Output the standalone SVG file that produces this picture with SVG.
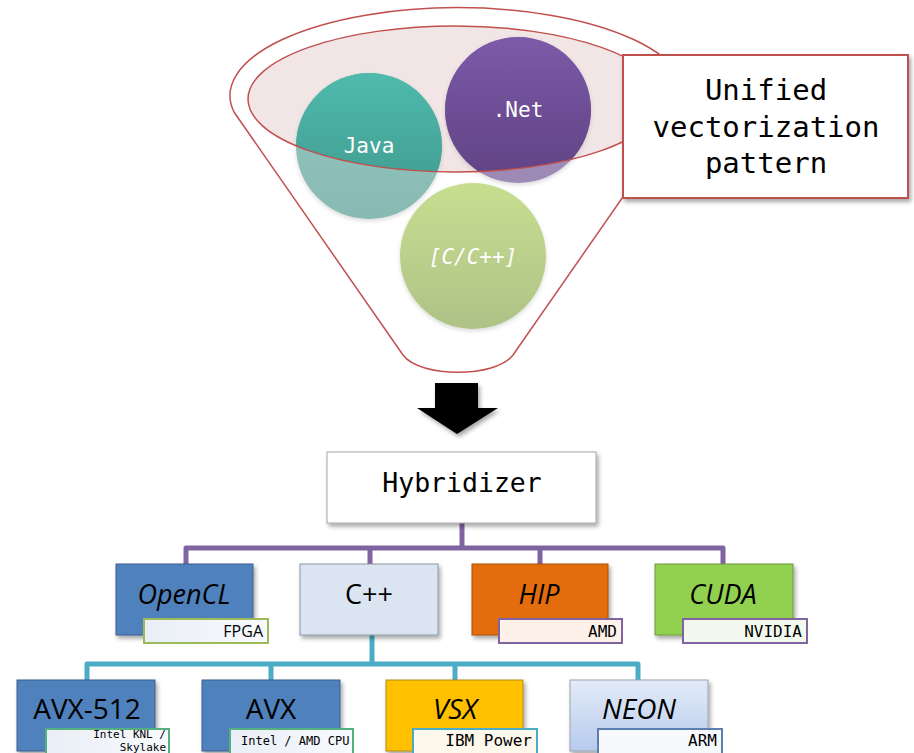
<svg xmlns="http://www.w3.org/2000/svg" width="914" height="753" viewBox="0 0 914 753">
<style>
.mono{font-family:"DejaVu Sans Mono","Liberation Mono",monospace}
.sans{font-family:"Open Sans","Noto Sans","Liberation Sans",sans-serif}
.ctext{font-size:21px;fill:#ffffff;text-anchor:middle}
.box{stroke-width:1}
.lbl{font-size:27px;fill:#000;text-anchor:middle}
.sub{stroke-width:2}
.subt{font-size:16px;fill:#000;text-anchor:end}
.conn{fill:none;stroke-width:5;stroke-linejoin:round;stroke-linecap:butt}
</style>
<defs>
<filter id="sh" x="-10%" y="-10%" width="130%" height="140%">
<feDropShadow dx="2" dy="3" stdDeviation="2" flood-color="#000" flood-opacity="0.35"/>
</filter>
<filter id="csh" x="-20%" y="-20%" width="140%" height="140%">
<feDropShadow dx="0" dy="2" stdDeviation="2" flood-color="#000" flood-opacity="0.15"/>
</filter>
<clipPath id="ell"><ellipse cx="455" cy="99" rx="207" ry="73"/></clipPath>
<linearGradient id="gJava" x1="0" y1="0" x2="0" y2="1"><stop offset="0" stop-color="#4fbaac"/><stop offset="1" stop-color="#3e968b"/></linearGradient>
<linearGradient id="gJavaL" x1="0" y1="0" x2="0" y2="1"><stop offset="0" stop-color="#95c9c2"/><stop offset="1" stop-color="#88b9b3"/></linearGradient>
<linearGradient id="gNet" x1="0" y1="0" x2="0" y2="1"><stop offset="0" stop-color="#7c5aa8"/><stop offset="1" stop-color="#5f4283"/></linearGradient>
<linearGradient id="gNetL" x1="0" y1="0" x2="0" y2="1"><stop offset="0" stop-color="#a793c2"/><stop offset="1" stop-color="#9c89b5"/></linearGradient>
<linearGradient id="gC" x1="0" y1="0" x2="0" y2="1"><stop offset="0" stop-color="#c7de90"/><stop offset="1" stop-color="#afc287"/></linearGradient>
<linearGradient id="gNeon" x1="0" y1="0" x2="0" y2="1"><stop offset="0" stop-color="#e3ebf7"/><stop offset="1" stop-color="#b7cbed"/></linearGradient>
<linearGradient id="gSub" x1="0" y1="0" x2="1" y2="0"><stop offset="0" stop-color="#e9eef6"/><stop offset="1" stop-color="#f8fafd"/></linearGradient>
</defs>

<g id="funnel">
<path d="M234,112 A228,88 0 1 1 682,112 L513,355 C496,378 420,378 403,355 Z" fill="#ffffff" stroke="#c0504d" stroke-width="1.5"/>
<ellipse cx="455" cy="99" rx="207" ry="73" fill="#f2e5e5"/>
</g>

<g id="java">
<circle cx="369" cy="146" r="73" fill="url(#gJavaL)" filter="url(#csh)"/>
<circle cx="369" cy="146" r="73" fill="url(#gJava)" clip-path="url(#ell)"/>
<text x="369" y="153" class="mono ctext">Java</text>
</g>
<g id="net">
<circle cx="518" cy="110" r="73" fill="url(#gNetL)" filter="url(#csh)"/>
<circle cx="518" cy="110" r="73" fill="url(#gNet)" clip-path="url(#ell)"/>
<text x="518" y="117" class="mono ctext">.Net</text>
</g>
<g id="ellipse-rim">
<ellipse cx="455" cy="99" rx="207" ry="73" fill="none" stroke="#c0504d" stroke-width="1.5"/>
</g>
<g id="cpp-lang">
<circle cx="473" cy="256" r="73" fill="url(#gC)" filter="url(#csh)"/>
<text x="473" y="264" class="mono ctext" font-style="italic">[C/C++]</text>
</g>

<g id="callout">
<rect x="623" y="55" width="285" height="143" fill="#ffffff" stroke="#c0504d" stroke-width="2" filter="url(#sh)"/>
<text class="mono" font-size="29" text-anchor="middle" fill="#000"><tspan x="766" y="100">Unified</tspan><tspan x="766" y="137">vectorization</tspan><tspan x="766" y="173">pattern</tspan></text>
</g>

<g id="arrow">
<path d="M435,383 H478 V408 H498 L457,434 L417,408 H435 Z" fill="#000" filter="url(#sh)"/>
</g>

<g id="connectors">
<path class="conn" stroke="#8064a2" d="M462,523 V548"/>
<path class="conn" stroke="#8064a2" d="M186,565 V548 H723 V565"/>
<path class="conn" stroke="#8064a2" d="M370,548 V565 M540,548 V565"/>
<path class="conn" stroke="#4bacc6" d="M372,635 V664"/>
<path class="conn" stroke="#4bacc6" d="M87,680 V664 H638 V680"/>
<path class="conn" stroke="#4bacc6" d="M271,664 V680 M455,664 V680"/>
</g>

<g id="hybridizer">
<rect x="327" y="452" width="269" height="71" fill="#ffffff" stroke="#a6a6a6" stroke-width="1" filter="url(#sh)"/>
<text x="462" y="492" class="mono" font-size="26.5" text-anchor="middle" fill="#000">Hybridizer</text>
</g>

<g id="opencl">
<rect x="116" y="564" width="137" height="71" fill="#4f81bd" stroke="#3a5f8c" class="box" filter="url(#sh)"/>
<text x="184" y="604" class="sans lbl" font-style="italic">OpenCL</text>
<rect x="144" y="619" width="124" height="24" fill="url(#gSub)" stroke="#9bbb59" class="sub"/>
<text x="263" y="637" class="sans" font-size="16" text-anchor="end" fill="#000">FPGA</text>
</g>

<g id="cpp">
<rect x="300" y="564" width="138" height="71" fill="#dbe5f1" stroke="#8c96a3" class="box" filter="url(#sh)"/>
<text x="369" y="604" class="sans lbl">C++</text>
</g>

<g id="hip">
<rect x="472" y="564" width="136" height="71" fill="#e36c0a" stroke="#a85008" class="box" filter="url(#sh)"/>
<text x="539" y="604" class="sans lbl" font-style="italic">HIP</text>
<rect x="499" y="619" width="123" height="24" fill="#fdf1ea" stroke="#8064a2" class="sub"/>
<text x="617" y="637" class="mono subt">AMD</text>
</g>

<g id="cuda">
<rect x="655" y="564" width="138" height="71" fill="#92d050" stroke="#6d9b3c" class="box" filter="url(#sh)"/>
<text x="723" y="604" class="sans lbl" font-style="italic">CUDA</text>
<rect x="683" y="619" width="124" height="24" fill="#f3f8ef" stroke="#8064a2" class="sub"/>
<text x="802" y="637" class="mono subt">NVIDIA</text>
</g>

<g id="avx512">
<rect x="17" y="680" width="138" height="71" fill="#4f81bd" stroke="#3a5f8c" class="box" filter="url(#sh)"/>
<text x="87" y="719" class="sans" font-size="28" text-anchor="middle" fill="#000">AVX-512</text>
<rect x="46" y="729" width="123" height="26" fill="url(#gSub)" stroke="#55b07f" class="sub"/>
<text class="mono" font-size="11" text-anchor="end" fill="#000"><tspan x="166" y="738">Intel KNL /</tspan><tspan x="166" y="751">Skylake</tspan></text>
</g>

<g id="avx">
<rect x="202" y="680" width="138" height="71" fill="#4f81bd" stroke="#3a5f8c" class="box" filter="url(#sh)"/>
<text x="271" y="719" class="sans" font-size="28" text-anchor="middle" fill="#000">AVX</text>
<rect x="230" y="729" width="123" height="26" fill="url(#gSub)" stroke="#55b07f" class="sub"/>
<text x="241" y="745" class="mono" font-size="12" fill="#000">Intel / AMD CPU</text>
</g>

<g id="vsx">
<rect x="386" y="680" width="137" height="71" fill="#ffc000" stroke="#b38a10" class="box" filter="url(#sh)"/>
<text x="455" y="719" class="sans" font-size="28" font-style="italic" text-anchor="middle" fill="#000">VSX</text>
<rect x="413" y="729" width="124" height="26" fill="#fdf8ec" stroke="#4bacc6" class="sub"/>
<text x="532" y="746" class="mono subt">IBM Power</text>
</g>

<g id="neon">
<rect x="570" y="680" width="138" height="71" fill="url(#gNeon)" stroke="#9aa3b0" class="box" filter="url(#sh)"/>
<text x="639" y="719" class="sans" font-size="28" font-style="italic" text-anchor="middle" fill="#000">NEON</text>
<rect x="598" y="729" width="124" height="26" fill="#f7f9fd" stroke="#5b7fae" class="sub"/>
<text x="717" y="746" class="mono subt">ARM</text>
</g>
</svg>
